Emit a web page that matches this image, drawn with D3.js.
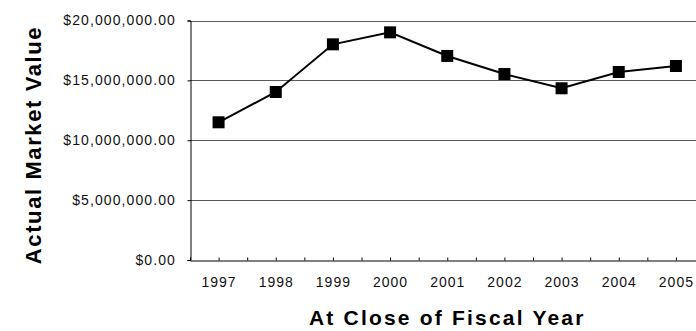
<!DOCTYPE html>
<html>
<head>
<meta charset="utf-8">
<script src="https://cdn.jsdelivr.net/npm/d3@7"></script>
<style>
  body { margin: 0; background: #fff; }
  svg { display: block; font-family: "Liberation Sans", Arial, sans-serif; }
</style>
</head>
<body>
<div id="chart"></div>
<script>
// data
const years = ["1997", "1998", "1999", "2000", "2001", "2002", "2003", "2004", "2005"];
const marketValue = [11500000, 14030000, 18010000, 19010000, 17040000, 15530000, 14340000, 15700000, 16200000];
const yTicks = [0, 5000000, 10000000, 15000000, 20000000];

const W = 696, H = 331;
const plot = { left: 190, right: 704.5, top: 20.5, bottom: 260 };

const svg = d3.select("#chart")
    .append("svg")
    .attr("width", W)
    .attr("height", H);

// x: category index, ticks on both band edges and centers (like the original)
const x = d3.scaleLinear()
    .domain([-0.5, years.length - 0.5])
    .range([plot.left, plot.right]);

const y = d3.scaleLinear()
    .domain([0, 20000000])
    .range([plot.bottom, plot.top]);

// gridlines
svg.append("g")
    .selectAll("line")
    .data(yTicks.filter(d => d > 0))
    .join("line")
    .attr("x1", plot.left)
    .attr("x2", plot.right)
    .attr("y1", d => Math.round(y(d)) + 0.5)
    .attr("y2", d => Math.round(y(d)) + 0.5)
    .attr("stroke", "#5a5a5a")
    .attr("stroke-width", 1);

// y axis
const yAxis = svg.append("g")
    .attr("transform", `translate(${plot.left + 0.5},0)`)
    .call(d3.axisLeft(y)
        .tickValues(yTicks)
        .tickSize(3)
        .tickPadding(11.5)
        .tickFormat(d3.format("$,.2f")));
yAxis.select(".domain").attr("stroke", "#000");
yAxis.selectAll(".tick line").attr("stroke", "#000");
yAxis.selectAll("text")
    .attr("fill", "#111")
    .style("font-size", "14px")
    .style("letter-spacing", "1.1px");

// x axis
const xAxis = svg.append("g")
    .attr("transform", `translate(0,${plot.bottom + 0.5})`)
    .call(d3.axisBottom(x)
        .tickValues(d3.range(-0.5, years.length, 0.5))
        .tickSize(-3)
        .tickSizeOuter(0)
        .tickPadding(17)
        .tickFormat(v => Number.isInteger(v) ? years[v] : ""));
xAxis.select(".domain").attr("stroke", "#000");
xAxis.selectAll(".tick line").attr("stroke", "#000");
xAxis.selectAll("text")
    .attr("fill", "#111")
    .style("font-size", "14px")
    .style("letter-spacing", "1px");

// series line + square markers
svg.append("path")
    .datum(marketValue)
    .attr("fill", "none")
    .attr("stroke", "#000")
    .attr("stroke-width", 2)
    .attr("d", d3.line().x((d, i) => x(i)).y(d => y(d)));

const ms = 12;
svg.append("g")
    .selectAll("rect")
    .data(marketValue)
    .join("rect")
    .attr("x", (d, i) => x(i) - ms / 2)
    .attr("y", d => y(d) - ms / 2)
    .attr("width", ms)
    .attr("height", ms)
    .attr("fill", "#000");

// axis titles
svg.append("text")
    .attr("transform", `translate(41,145) rotate(-90)`)
    .attr("text-anchor", "middle")
    .style("font-size", "22px")
    .style("font-weight", "bold")
    .style("letter-spacing", "1.6px")
    .text("Actual Market Value");

svg.append("text")
    .attr("x", (plot.left + plot.right) / 2)
    .attr("y", 325)
    .attr("text-anchor", "middle")
    .style("font-size", "21px")
    .style("font-weight", "bold")
    .style("letter-spacing", "2.2px")
    .text("At Close of Fiscal Year");
</script>
</body>
</html>
